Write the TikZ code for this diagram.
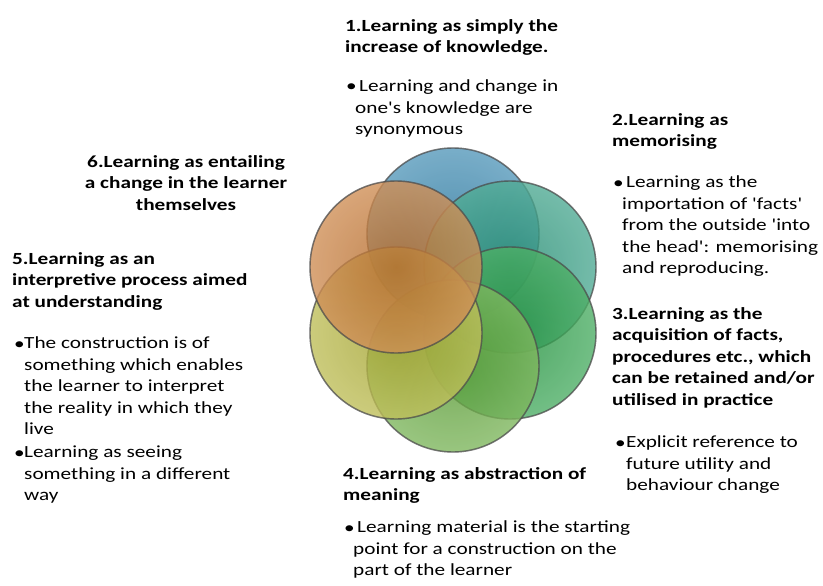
\documentclass[tikz,border=0pt]{standalone}
\usepackage{fontspec}
\newfontfamily\calfont{Carlito}[FakeStretch=1.25]
\begin{document}
\begin{tikzpicture}[x=1pt,y=-1pt,
  txt/.style={anchor=north west,yshift=11.05pt,inner sep=0pt,align=left,
    font=\calfont\fontsize{17}{21.5}\selectfont,execute at begin node=\strut},
  hd/.style={txt,font=\calfont\fontsize{17}{21.5}\selectfont\bfseries},
  bul/.style={anchor=base west,inner sep=0pt,font=\calfont\fontsize{17}{21.5}\selectfont},
  circ/.style={draw=black!70,draw opacity=0.5,line width=1.4pt,fill opacity=0.8}]
\useasboundingbox (0,0) rectangle (823,586);
\definecolor{cblue}{RGB}{45,128,170}
\definecolor{cteal}{RGB}{38,150,122}
\definecolor{cgreen}{RGB}{35,155,65}
\definecolor{clgreen}{RGB}{95,165,55}
\definecolor{cyellow}{RGB}{175,175,50}
\definecolor{corange}{RGB}{195,115,45}
\def\R{86}
\def\circ#1#2{\shade[circ,inner color=#2!92!black,outer color=#2!80!white] #1 circle[radius=\R];
  \draw[circ,fill=none] #1 circle[radius=\R];}
\circ{(453,234)}{cblue}
\circ{(510,267)}{cteal}
\circ{(510,333)}{cgreen}
\circ{(453,366)}{clgreen}
\circ{(396,333)}{cyellow}
\circ{(396,267)}{corange}
% block 1
\node[hd] (h1) at (345,30) {1.Learning as simply the\\increase of knowledge.};
\node[bul] (b1) at (346,92) {•};
\node[txt] (t1) at (355,91) {\hspace{4pt}Learning and change in\\one's knowledge are\\synonymous};
% block 2
\node[hd] (h2) at (612,124) {2.Learning as\\memorising};
\node[bul] (b2) at (613,188) {•};
\node[txt] (t2) at (622,187) {\hspace{4pt}Learning as the\\importation of 'facts'\\from the outside 'into\\the head': memorising\\and reproducing.};
% block 3
\node[hd] (h3) at (612,318) {3.Learning as the\\acquisition of facts,\\procedures etc., which\\can be retained and/or\\utilised in practice};
\node[bul] (b3) at (615,448) {•};
\node[txt] (t3) at (626,447) {Explicit reference to\\future utility and\\behaviour change};
% block 4
\node[hd] (h4) at (343,478) {4.Learning as abstraction of\\meaning};
\node[bul] (b4) at (344,533) {•};
\node[txt] (t4) at (353,532) {\hspace{4pt}Learning material is the starting\\point for a construction on the\\part of the learner};
% block 5
\node[hd] (h5) at (12,263) {5.Learning as an\\interpretive process aimed\\at understanding};
\node[bul] (b5) at (14,349) {•};
\node[txt] (t5) at (24,348) {The construction is of\\something which enables\\the learner to interpret\\the reality in which they\\live};
\node[bul] (b5b) at (14,458) {•};
\node[txt] (t5b) at (24,457) {Learning as seeing\\something in a different\\way};
% block 6
\node[hd,anchor=north,align=center] (h6) at (186,166) {6.Learning as entailing\\a change in the learner\\themselves};
\end{tikzpicture}
\end{document}
